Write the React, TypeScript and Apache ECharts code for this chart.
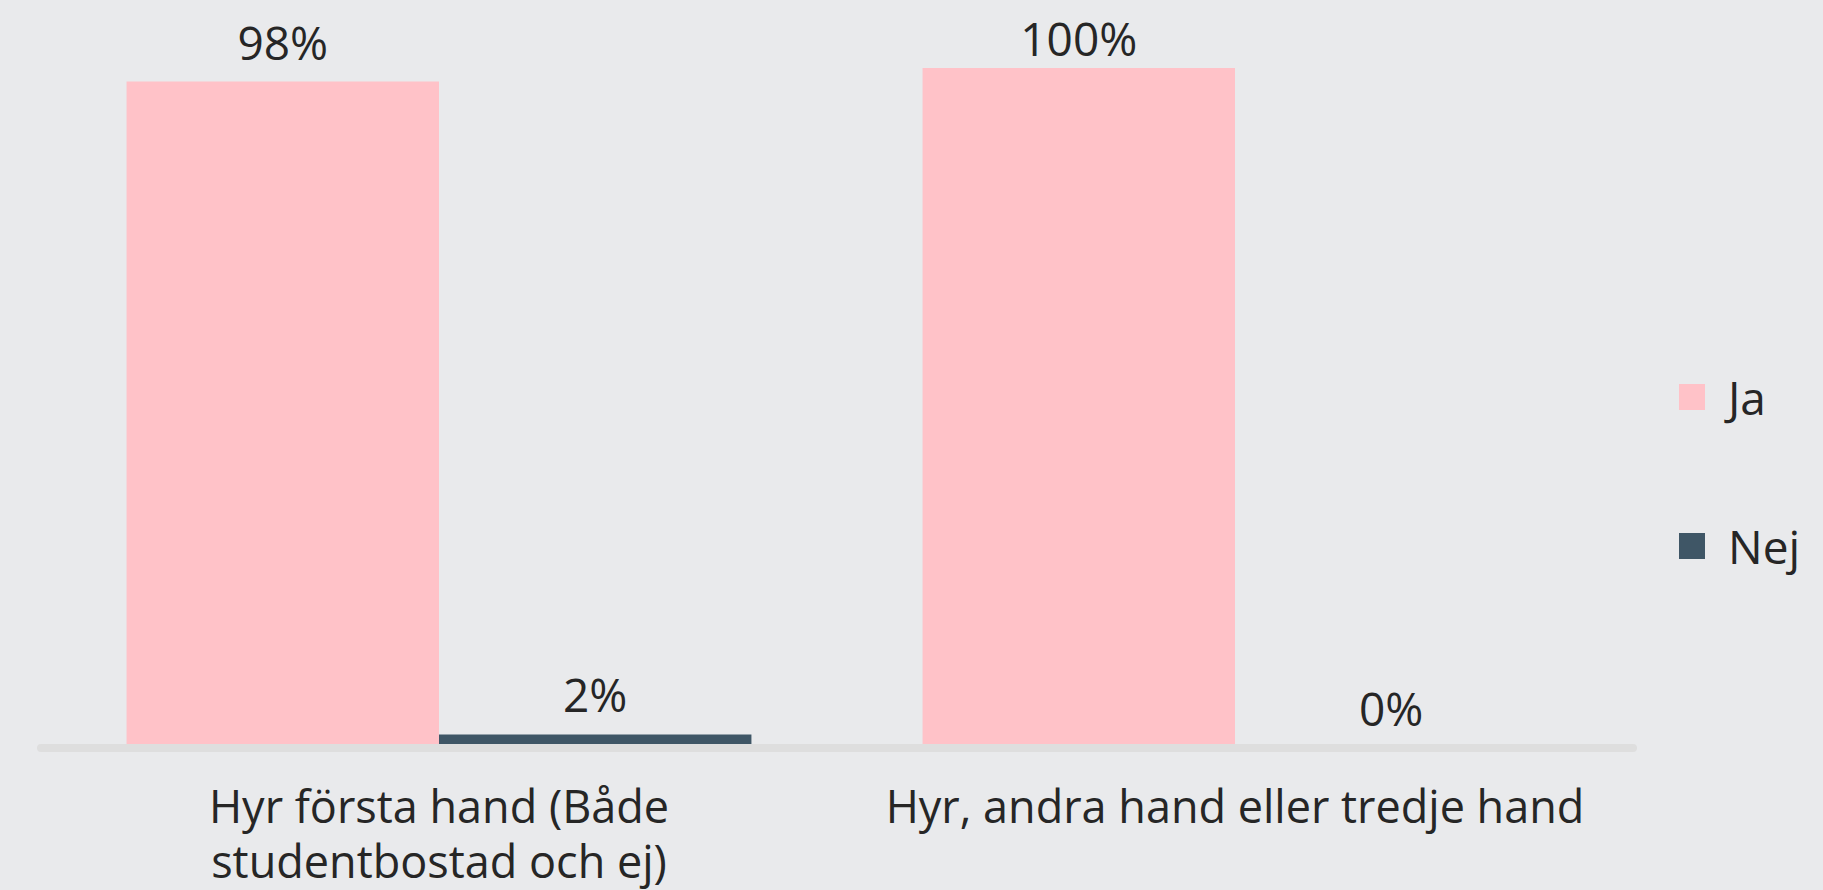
import React, { useEffect, useRef } from "react";
import * as echarts from "echarts";

const categories = ["Hyr första hand (Både\nstudentbostad och ej)", "Hyr, andra hand eller tredje hand"];
const seriesNames = ["Ja", "Nej"];
const jaValues = [98, 100];
const nejValues = [2, 0];

const FONT = "Open Sans";
const TEXT = "#262626";

export default function App() {
  const ref = useRef<HTMLDivElement>(null);
  useEffect(() => {
    if (!ref.current) return;
    const chart = echarts.init(ref.current, undefined, { renderer: "svg" });
    const label = {
      show: true,
      position: "top",
      distance: 17,
      formatter: "{c}%",
      fontFamily: FONT,
      fontSize: 46,
      lineHeight: 46,
      color: TEXT,
    };
    // labels of full-height bars are pushed down so they stay inside the chart
    const toData = (vals: number[]) =>
      vals.map((v) => (v >= 100 ? { value: v, label: { distance: 7 } } : { value: v }));
    chart.setOption({
      animation: false,
      backgroundColor: "#e9eaec",
      textStyle: { fontFamily: FONT },
      grid: { left: 41, right: 190, top: 68, bottom: 142 },
      legend: {
        orient: "vertical",
        left: 1679,
        top: 374,
        padding: 0,
        itemWidth: 26,
        itemHeight: 26,
        itemGap: 103,
        icon: "rect",
        data: seriesNames,
        textStyle: { fontFamily: FONT, fontSize: 46, color: TEXT, lineHeight: 26, padding: [0, 0, 0, 18] },
      },
      xAxis: {
        type: "category",
        data: categories,
        z: 5,
        axisLine: { show: true, lineStyle: { color: "#dedede", width: 8 } },
        axisTick: { show: false },
        axisLabel: {
          fontFamily: FONT,
          fontSize: 45,
          color: TEXT,
          lineHeight: 55,
          margin: 30,
          interval: 0,
        },
      },
      yAxis: {
        type: "value",
        min: 0,
        max: 100,
        show: false,
        splitLine: { show: false },
      },
      series: [
        {
          name: seriesNames[0],
          type: "bar",
          data: toData(jaValues),
          barGap: "0%",
          barCategoryGap: "21.5%",
          itemStyle: { color: "#ffc2c8" },
          label,
        },
        {
          name: seriesNames[1],
          type: "bar",
          data: toData(nejValues),
          barGap: "0%",
          barCategoryGap: "21.5%",
          itemStyle: { color: "#3f5666" },
          label,
        },
      ],
    });
    return () => chart.dispose();
  }, []);
  return (
    <div
      ref={ref}
      style={{ position: "absolute", left: 0, top: 0, width: 1823, height: 890 }}
    />
  );
}
